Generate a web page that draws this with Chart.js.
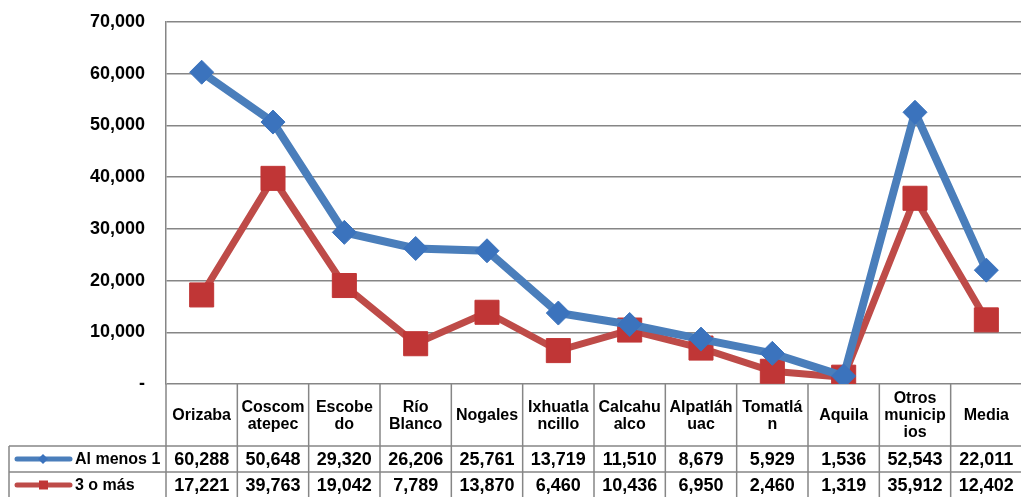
<!DOCTYPE html>
<html>
<head>
<meta charset="utf-8">
<script src="https://cdn.jsdelivr.net/npm/chart.js@4.4.1/dist/chart.umd.min.js"></script>
<style>
    html, body { margin: 0; padding: 0; background: #fff; overflow: hidden; }
    #wrap { width: 1021px; height: 497px; overflow: hidden; position: relative; }
    #wrap canvas { position: absolute; left: 0; top: 0; }
</style>
</head>
<body>
<div id="wrap"><canvas id="chart" width="1040" height="497"></canvas></div>
<script>
// Categories (as wrapped in the data table header)
const categories = [
    ['Orizaba'], ['Coscom', 'atepec'], ['Escobe', 'do'], ['Río', 'Blanco'], ['Nogales'],
    ['Ixhuatla', 'ncillo'], ['Calcahu', 'alco'], ['Alpatláh', 'uac'], ['Tomatlá', 'n'],
    ['Aquila'], ['Otros', 'municip', 'ios'], ['Media']
];
const seriesNames = ['Al menos 1', '3 o más'];
const alMenos1 = [60288, 50648, 29320, 26206, 25761, 13719, 11510, 8679, 5929, 1536, 52543, 22011];
const tresOMas = [17221, 39763, 19042, 7789, 13870, 6460, 10436, 6950, 2460, 1319, 35912, 12402];
const yTicks = [0, 10000, 20000, 30000, 40000, 50000, 60000, 70000];

const FONT = '"Liberation Sans", Arial, sans-serif';
const GRID = '#868686';
const BLUE = '#4a7ebb';
const BLUE_MK = '#3b73bd';
const RED = '#be4b48';
const RED_MK = '#c03636';

function fmt(v) {
    return v === 0 ? '-' : v.toLocaleString('en-US');
}

// Draws the data table under the plot area
const dataTablePlugin = {
    id: 'dataTable',
    afterDraw(chart) {
        const ctx = chart.ctx;
        const xs = chart.scales.x;
        const area = chart.chartArea;
        const colW = xs.getPixelForValue(1) - xs.getPixelForValue(0);
        const top = area.bottom;
        const hdrH = 62, rowH = 26;
        const hdrBot = top + hdrH;
        const rowTops = [hdrBot, hdrBot + rowH];
        const tableLeft = 9;
        const right = area.right;
        const bottom = chart.height + 2;

        ctx.save();
        ctx.strokeStyle = GRID;
        ctx.lineWidth = 1.5;
        ctx.beginPath();
        // vertical column borders
        for (let i = 0; i <= categories.length; i++) {
            const x = xs.getPixelForValue(0) - colW / 2 + i * colW;
            ctx.moveTo(x, top);
            ctx.lineTo(x, bottom);
        }
        // row lines
        ctx.moveTo(tableLeft, hdrBot); ctx.lineTo(right, hdrBot);
        ctx.moveTo(tableLeft, hdrBot + rowH); ctx.lineTo(right, hdrBot + rowH);
        ctx.moveTo(tableLeft, hdrBot + 2 * rowH); ctx.lineTo(right, hdrBot + 2 * rowH);
        ctx.moveTo(tableLeft, hdrBot); ctx.lineTo(tableLeft, bottom);
        ctx.stroke();

        // header text
        ctx.fillStyle = '#000';
        ctx.font = 'bold 16px ' + FONT;
        ctx.textAlign = 'center';
        ctx.textBaseline = 'middle';
        const lh = 17;
        categories.forEach((lines, i) => {
            const cx = xs.getPixelForValue(i);
            const cy = top + hdrH / 2 + 1;
            lines.forEach((t, j) => {
                ctx.fillText(t, cx, cy + (j - (lines.length - 1) / 2) * lh);
            });
        });

        // values
        ctx.font = 'bold 18px ' + FONT;
        [alMenos1, tresOMas].forEach((arr, r) => {
            const cy = rowTops[r] + rowH / 2 + 1;
            arr.forEach((v, i) => ctx.fillText(fmt(v), xs.getPixelForValue(i), cy));
        });

        // legend keys in row headers
        const keys = [
            { color: BLUE, mk: BLUE_MK, shape: 'diamond' },
            { color: RED, mk: RED_MK, shape: 'square' }
        ];
        keys.forEach((k, r) => {
            const cy = rowTops[r] + rowH / 2;
            ctx.strokeStyle = k.color;
            ctx.lineWidth = 5;
            ctx.lineCap = 'round';
            ctx.beginPath();
            ctx.moveTo(17, cy); ctx.lineTo(70, cy);
            ctx.stroke();
            ctx.fillStyle = k.mk;
            ctx.beginPath();
            if (k.shape === 'diamond') {
                ctx.moveTo(43, cy - 5); ctx.lineTo(48, cy); ctx.lineTo(43, cy + 5); ctx.lineTo(38, cy);
                ctx.closePath();
            } else {
                ctx.rect(39, cy - 4.5, 9, 9);
            }
            ctx.fill();
            ctx.fillStyle = '#000';
            ctx.textAlign = 'left';
            ctx.font = 'bold 16px ' + FONT;
            ctx.fillText(seriesNames[r], 75, cy + 1);
        });
        ctx.restore();
    }
};

const chart = new Chart(document.getElementById('chart'), {
    type: 'line',
    data: {
        labels: categories,
        datasets: [
            {
                label: seriesNames[0],
                data: alMenos1,
                borderColor: BLUE,
                borderWidth: 8,
                pointStyle: 'rectRot',
                pointRadius: 12,
                pointBackgroundColor: BLUE_MK,
                pointBorderColor: BLUE_MK,
                pointBorderWidth: 1,
                tension: 0
            },
            {
                label: seriesNames[1],
                data: tresOMas,
                borderColor: RED,
                borderWidth: 7,
                pointStyle: 'rect',
                pointRadius: 17,
                pointBackgroundColor: RED_MK,
                pointBorderColor: RED_MK,
                pointBorderWidth: 1,
                tension: 0
            }
        ]
    },
    options: {
        responsive: false,
        animation: false,
        layout: { padding: { top: 22, bottom: 113, left: 0, right: 6 } },
        plugins: {
            legend: { display: false },
            tooltip: { enabled: false }
        },
        scales: {
            x: {
                offset: true,
                grid: { display: false, drawTicks: false },
                border: { display: false },
                ticks: { display: false },
                afterFit(s) { s.height = 0; s.paddingLeft = 0; s.paddingRight = 0; }
            },
            y: {
                min: 0,
                max: 70000,
                afterFit(s) { s.width = 166; s.paddingTop = 0; s.paddingBottom = 0; },
                afterBuildTicks(s) { s.ticks = yTicks.map(v => ({ value: v })); },
                grid: { color: GRID, lineWidth: 1.5, drawTicks: false },
                border: { color: GRID, width: 1.5 },
                ticks: {
                    padding: 21,
                    color: '#000',
                    font: { family: FONT, size: 18, weight: 'bold' },
                    callback: v => fmt(v)
                }
            }
        }
    },
    plugins: [dataTablePlugin]
});
</script>
</body>
</html>
